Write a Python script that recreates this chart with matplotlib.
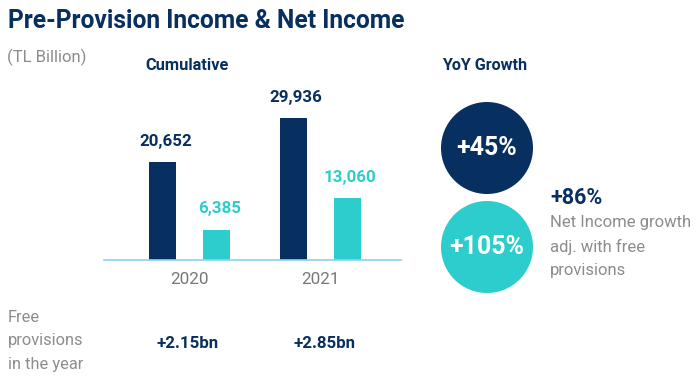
import matplotlib
matplotlib.use("Agg")
import matplotlib.pyplot as plt
from matplotlib.patches import Circle
import numpy as np

years = ["2020", "2021"]
pre_provision = [20652, 29936]
net_income = [6385, 13060]
yoy_growth = ["+45%", "+105%"]
adj_growth = "+86%"
adj_note = ["Net Income growth", "adj. with free", "provisions"]
free_prov = ["+2.15bn", "+2.85bn"]

NAVY = "#072f5f"
TEAL = "#2dcccd"
GREY = "#8c8c8c"
LINE = "#8fd0f2"

plt.rcParams["font.family"] = ["Roboto", "DejaVu Sans"]

W, H = 699, 388
fig = plt.figure(figsize=(W / 100, H / 100), dpi=100)

# overlay in pixel units for free text and the growth badges
ov = fig.add_axes([0, 0, 1, 1])
ov.set_xlim(0, W)
ov.set_ylim(H, 0)
ov.axis("off")

ov.text(8, 21, "Pre-Provision Income & Net Income", fontsize=17.7,
        fontweight="bold", color=NAVY, va="center", ha="left")
ov.text(7, 57, "(TL Billion)", fontsize=12, color=GREY, va="center")
ov.text(187, 65, "Cumulative", fontsize=11.8, fontweight="bold",
        color=NAVY, va="center", ha="center")
ov.text(485, 65, "YoY Growth", fontsize=11.6, fontweight="bold",
        color=NAVY, va="center", ha="center")

# growth badges
for (cy, col), txt in zip([(148, NAVY), (247, TEAL)], yoy_growth):
    ov.add_patch(Circle((487, cy), 46, color=col, lw=0))
    ov.text(487, cy, txt, fontsize=18, fontweight="bold", color="white",
            ha="center", va="center")

ov.text(550, 198, adj_growth, fontsize=15.5, fontweight="bold", color=NAVY,
        va="center")
for i, line in enumerate(adj_note):
    ov.text(550, 223 + i * 23.5, line, fontsize=12, color=GREY, va="center")

for i, line in enumerate(["Free", "provisions", "in the year"]):
    ov.text(8, 317 + i * 24, line, fontsize=11.8, color=GREY, va="center")
for xc, txt in zip([188, 324], free_prov):
    ov.text(xc, 343, txt, fontsize=12.2, fontweight="bold", color=NAVY,
            ha="center", va="center")

# bar chart
ax = fig.add_axes([104 / W, 1 - 260 / H, 297 / W, 180 / H])
x = np.arange(len(years))
bw = 0.207
ax.bar(x - bw, pre_provision, bw, color=NAVY)
ax.bar(x + bw, net_income, bw, color=TEAL)
ax.set_xlim(-0.655, 1.62)
ax.set_ylim(0, 180 / 0.004745)

for xi, v in zip(x - bw, pre_provision):
    ax.annotate(f"{v:,}", (xi, v), xytext=(2, 15), textcoords="offset points",
                ha="center", va="center", fontsize=12.2, fontweight="bold",
                color=NAVY)
for xi, v in zip(x + bw, net_income):
    ax.annotate(f"{v:,}", (xi, v), xytext=(2, 15), textcoords="offset points",
                ha="center", va="center", fontsize=12.2, fontweight="bold",
                color=TEAL)

for s in ["top", "right", "left"]:
    ax.spines[s].set_visible(False)
ax.spines["bottom"].set_color(LINE)
ax.spines["bottom"].set_linewidth(1.2)
ax.set_yticks([])
ax.set_xticks(x)
ax.set_xticklabels(years, fontsize=12.3, color="#777777")
ax.tick_params(axis="x", length=0, pad=9)
ax.patch.set_alpha(0)

fig.savefig("out.png", dpi=100)
